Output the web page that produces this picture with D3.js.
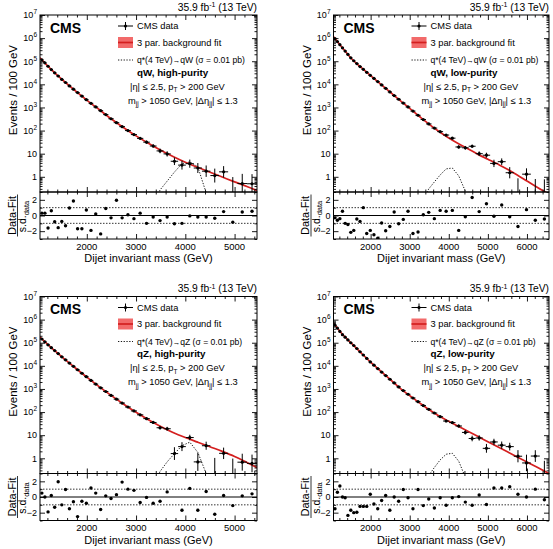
<!DOCTYPE html>
<html lang="en">
<head>
<meta charset="utf-8">
<title>Dijet invariant mass - qW / qZ categories</title>
<script src="https://cdn.jsdelivr.net/npm/d3@7"></script>
<style>
  body { margin: 0; background: #fff; }
  text { font-family: 'Liberation Sans', Arial, Helvetica, sans-serif; fill: #000; }
</style>
</head>
<body>
<script>

// dijet mass bin edges (GeV)
var binEdges = [1058, 1118, 1181, 1246, 1313, 1383, 1455, 1530, 1607, 1687, 1770, 1856, 1945,
  2037, 2132, 2231, 2332, 2438, 2546, 2659, 2775, 2895, 3019, 3147, 3279, 3416, 3558, 3704,
  3854, 4010, 4171, 4337, 4509, 4686, 4869, 5058, 5253, 5455, 5663, 5877, 6099, 6328, 6564];

// events / 100 GeV per bin
var qwHighData = [115000, 85000, 60500, 43600, 31600, 23000, 16300, 12000, 8550, 6150, 4400, 3100,
  2170, 1510, 1050, 725, 490, 325, 220, 148, 100, 67, 46, 31.5, 21.5, 13.2, 9.8, 4.7, 3.2, 3.7,
  2.4, 1.75, 1.13, 1.64, 0, 0.51, 0.5];
var qwLowData = [955000, 708000, 521000, 380000, 275000, 197000, 140000, 105000, 79400, 58900,
  44700, 33100, 24500, 18100, 13200, 9440, 6700, 4680, 3280, 2270, 1550, 1050, 698, 459, 300,
  194, 128, 90, 64, 47, 19.5, 18, 21, 10, 8.6, 3.8, 4.5, 1.5, 0, 1.3, 0, 0];
var qzHighData = [145000, 110000, 81000, 61000, 45700, 33900, 24500, 18200, 13200, 9550, 6760,
  4790, 3390, 2340, 1620, 1120, 776, 525, 363, 245, 166, 112, 76, 52, 35.5, 21, 19, 1.6, 3.2,
  7.9, 0.7, 3.5, 0, 1.64, 0, 0.68, 0.6];
var qzLowData = [575000, 427000, 309000, 224000, 174000, 132000, 100000, 75900, 56200, 40700,
  29500, 20900, 14800, 10700, 7590, 5370, 3800, 2630, 1820, 1230, 851, 589, 407, 282, 191, 132,
  91, 63, 41, 35, 25, 13.2, 7.2, 7.6, 2.7, 5.1, 3.7, 3.2, 1.23, 0.63, 1.25, 0];

// (data - fit) / s.d. per bin
var qwHighPull = [0.3, 0.3, -1.6, 0.6, -0.8, -1.55, -0.75, -1.3, 0.95, 1.85, -1.7, -1.7, 0.7,
  -1.9, 0.2, -2.35, 0.9, -0.3, 1.95, -0.3, 0.1, -0.4, 0.3, -1.0, -0.2, -0.65, -0.2, -1.05, -1.0,
  -0.05, -0.2, -0.2, -0.35, 0.5, -0.85, 0.45, 0.55];
var qwLowPull = [-0.3, -0.6, -0.4, 0.55, -1.0, -1.15, -2.15, -1.9, -0.45, -0.75, 1.0, -2.3, -1.9,
  -2.45, -2.9, -0.95, -1.95, -1.4, 0.45, -1.05, -0.5, 0.55, -2.3, -2.1, 0.1, 0.4, -0.4, 0.65,
  0.55, 0.65, -1.9, -0.15, 2.3, 0.5, 1.5, -0.1, 1.35, -0.15, -1.4, 0.75, -0.6, -0.45];
var qzHighPull = [0.5, 0, -1.9, 0.2, -1.3, 1.95, -1.0, 0.95, -1.5, -0.6, -2.5, -0.55, -0.8, 1.15,
  0.5, -1.6, 0.15, -0.2, 0.3, 1.9, 1.0, 0.85, -0.7, -0.05, -0.8, -0.55, 0.65, -3.5, -1.7, 1.1,
  -1.7, 0.7, -2.2, 0.2, -1.1, 0.15, 0.4];
var qzLowPull = [-1.5, 0.6, 1.4, 0, -0.1, -2.35, -1.7, -2.0, -1.95, -1.2, -1.2, -1.2, 0.35, -0.9,
  -1.5, -0.45, 0.2, -1.7, 0, -0.55, 0.95, -0.1, -1.5, 0.95, -1.1, -0.25, -1.4, -0.1, -1.05, -0.1,
  0.05, -0.65, -1.05, 0.25, -0.95, 1.15, 1.15, 1.3, 0.35, 0, 1.0, -0.35];

// 3 parameter fit, log10(events / 100 GeV) at these masses
var fitMassHigh = [1050, 1250, 1500, 1750, 2000, 2250, 2500, 2750, 3000, 3250, 3500, 3750, 4000,
  4250, 4500, 4750, 5000, 5250, 5455];
var fitMassLow = [1050, 1250, 1500, 1750, 2000, 2250, 2500, 2750, 3000, 3250, 3500, 3750, 4000,
  4250, 4500, 4750, 5000, 5250, 5500, 5750, 6000, 6250, 6564];
var qwHighFit = [5.15, 4.70, 4.20, 3.75, 3.32, 2.91, 2.50, 2.12, 1.77, 1.45, 1.15, 0.88, 0.63,
  0.41, 0.20, -0.01, -0.22, -0.42, -0.60];
var qzHighFit = [5.24, 4.84, 4.38, 3.94, 3.51, 3.10, 2.71, 2.34, 1.99, 1.67, 1.38, 1.12, 0.90,
  0.70, 0.50, 0.30, 0.08, -0.18, -0.40];
var qwLowFit = [6.06, 5.64, 5.13, 4.74, 4.38, 4.02, 3.66, 3.31, 2.96, 2.61, 2.27, 1.96, 1.68,
  1.43, 1.20, 0.97, 0.76, 0.55, 0.33, 0.08, -0.18, -0.44, -0.75];
var qzLowFit = [5.85, 5.42, 4.99, 4.57, 4.16, 3.78, 3.41, 3.04, 2.71, 2.40, 2.10, 1.83, 1.60,
  1.38, 1.16, 0.94, 0.72, 0.50, 0.28, 0.06, -0.16, -0.38, -0.66];

// q*(4 TeV) signal, events / 100 GeV
var sigMass = [3347.5, 3487, 3631, 3779, 3932, 4090.5, 4254, 4423, 4597.5];
var qwHighSig = [0.05, 0.27, 0.65, 1.6, 3.7, 4.4, 2.7, 0.2, 0.005];
var qwLowSig = [0.1, 0.3, 0.6, 1.2, 2.2, 2.4, 1.1, 0.24, 0.01];
var qzHighSig = [0.05, 0.27, 0.7, 1.6, 3.5, 5.0, 1.8, 0.22, 0.005];
var qzLowSig = [0.02, 0.18, 0.4, 0.85, 1.5, 1.65, 0.75, 0.15, 0.005];

var xTicksHigh = [2000, 3000, 4000, 5000];
var xTicksLow = [2000, 3000, 4000, 5000, 6000];
var pullTicks = [-2, 0, 2];

var red = "#d41f1f";
var yMin = 0.22;

var svg = d3.select("body").append("svg")
  .attr("width", 553)
  .attr("height", 549);

var panels = [
  {left: 40, right: 257, top: 15, data: qwHighData, pull: qwHighPull, fitMass: fitMassHigh,
   fit: qwHighFit, sig: qwHighSig, xTicks: xTicksHigh, boson: "qW", cat: "qW, high-purity"},
  {left: 333.5, right: 549, top: 15, data: qwLowData, pull: qwLowPull, fitMass: fitMassLow,
   fit: qwLowFit, sig: qwLowSig, xTicks: xTicksLow, boson: "qW", cat: "qW, low-purity"},
  {left: 40, right: 257, top: 296.5, data: qzHighData, pull: qzHighPull, fitMass: fitMassHigh,
   fit: qzHighFit, sig: qzHighSig, xTicks: xTicksHigh, boson: "qZ", cat: "qZ, high-purity"},
  {left: 333.5, right: 549, top: 296.5, data: qzLowData, pull: qzLowPull, fitMass: fitMassLow,
   fit: qzLowFit, sig: qzLowSig, xTicks: xTicksLow, boson: "qZ", cat: "qZ, low-purity"}
];

//Poisson-ish interval, returned in events / 100 GeV
function errBand(v, w) {
  var n = v * w / 100;
  if (n <= 0) return [0, 1.84 * 100 / w];
  var s = Math.sqrt(n + 0.25);
  return [Math.max(n - s + 0.5, 0) * 100 / w, (n + s + 0.5) * 100 / w];
}

function cleanAxis(sel) {
  sel.select(".domain").remove();
  sel.selectAll(".tick line").attr("stroke", "#000").attr("stroke-width", 0.9);
}

function drawPanel(p, k) {
  var g = svg.append("g");
  var top = p.top, mid = p.top + 177, bot = mid + 47;
  var nb = p.data.length;

  var x = d3.scaleLinear().domain([1050, binEdges[nb]]).range([p.left, p.right]);
  var y = d3.scaleLog().domain([yMin, 1e7]).range([mid, top]);
  var yp = d3.scaleLinear().domain([-3, 3]).range([bot, mid]);

  var defs = g.append("defs");
  defs.append("clipPath").attr("id", "ct" + k).append("rect")
    .attr("x", p.left).attr("y", top)
    .attr("width", p.right - p.left).attr("height", mid - top);
  defs.append("clipPath").attr("id", "cp" + k).append("rect")
    .attr("x", p.left).attr("y", mid)
    .attr("width", p.right - p.left).attr("height", bot - mid);

  var bins = p.data.map(function(v, i) {
    var lo = binEdges[i], hi = binEdges[i + 1];
    return {lo: lo, hi: hi, c: (lo + hi) / 2, w: hi - lo, v: v, pull: p.pull[i]};
  });

  var plot = g.append("g").attr("clip-path", "url(#ct" + k + ")");

  //signal shape
  plot.append("path")
    .datum(sigMass.map(function(m, i) { return [m, p.sig[i]]; }))
    .attr("d", d3.line()
      .x(function(d) { return x(d[0]); })
      .y(function(d) { return y(d[1]); }))
    .attr("fill", "none")
    .attr("stroke", "#000")
    .attr("stroke-width", 0.9)
    .attr("stroke-dasharray", "1.3,1.5");

  //background fit
  plot.append("path")
    .datum(p.fitMass.map(function(m, i) { return [m, Math.pow(10, p.fit[i])]; }))
    .attr("d", d3.line()
      .x(function(d) { return x(d[0]); })
      .y(function(d) { return y(d[1]); })
      .curve(d3.curveMonotoneX))
    .attr("fill", "none")
    .attr("stroke", red)
    .attr("stroke-width", 1.7);

  //data: error bars and markers
  var pts = plot.selectAll("g.pt").data(bins).enter().append("g");
  pts.filter(function(d) { return d.v > 0; }).append("line")
    .attr("x1", function(d) { return x(d.lo); })
    .attr("x2", function(d) { return x(d.hi); })
    .attr("y1", function(d) { return y(d.v); })
    .attr("y2", function(d) { return y(d.v); })
    .attr("stroke", "#000").attr("stroke-width", 1);
  pts.append("line")
    .attr("x1", function(d) { return x(d.c); })
    .attr("x2", function(d) { return x(d.c); })
    .attr("y1", function(d) { return y(Math.max(errBand(d.v, d.w)[0], yMin)); })
    .attr("y2", function(d) { return y(errBand(d.v, d.w)[1]); })
    .attr("stroke", "#000").attr("stroke-width", 1);
  pts.filter(function(d) { return d.v > 0; }).append("circle")
    .attr("cx", function(d) { return x(d.c); })
    .attr("cy", function(d) { return y(d.v); })
    .attr("r", 1.6)
    .attr("fill", "#000");

  //pull panel
  var pp = g.append("g").attr("clip-path", "url(#cp" + k + ")");
  pp.append("line")
    .attr("x1", p.left).attr("x2", p.right)
    .attr("y1", yp(0)).attr("y2", yp(0))
    .attr("stroke", "#000").attr("stroke-width", 1);
  [-1, 1].forEach(function(v) {
    pp.append("line")
      .attr("x1", p.left).attr("x2", p.right)
      .attr("y1", yp(v)).attr("y2", yp(v))
      .attr("stroke", "#000").attr("stroke-width", 0.8)
      .attr("stroke-dasharray", "1.5,1.5");
  });
  pp.selectAll("circle").data(bins.filter(function(d) { return Math.abs(d.pull) < 3; }))
    .enter().append("circle")
    .attr("cx", function(d) { return x(d.c); })
    .attr("cy", function(d) { return yp(d.pull); })
    .attr("r", 1.7)
    .attr("fill", "#000");

  //x axes (ticks inside on every edge)
  var xMinor = d3.range(1200, binEdges[nb], 200).filter(function(v) { return v % 1000 !== 0; });
  [[top, d3.axisTop], [mid, d3.axisBottom], [mid, d3.axisTop], [bot, d3.axisBottom]].forEach(function(a) {
    var maj = a[1](x).tickValues(p.xTicks).tickSize(-5).tickFormat("");
    var mnr = a[1](x).tickValues(xMinor).tickSize(-2.5).tickFormat("");
    g.append("g").attr("transform", "translate(0," + a[0] + ")").call(maj).call(cleanAxis);
    g.append("g").attr("transform", "translate(0," + a[0] + ")").call(mnr).call(cleanAxis);
  });

  //x tick labels
  g.selectAll("text.xl").data(p.xTicks).enter().append("text")
    .attr("x", function(d) { return x(d); })
    .attr("y", bot + 10.5)
    .attr("text-anchor", "middle")
    .attr("font-size", 9.5)
    .text(function(d) { return d; });

  //log y axes
  var decades = [1, 10, 100, 1e3, 1e4, 1e5, 1e6, 1e7];
  var logMinor = [];
  [0.1, 1, 10, 100, 1e3, 1e4, 1e5, 1e6].forEach(function(dec) {
    for (var m = 2; m <= 9; m++) {
      if (dec * m > yMin && dec * m < 1e7) logMinor.push(dec * m);
    }
  });
  [[p.left, d3.axisLeft], [p.right, d3.axisRight]].forEach(function(a) {
    g.append("g").attr("transform", "translate(" + a[0] + ",0)")
      .call(a[1](y).tickValues(decades).tickSize(-5).tickFormat("")).call(cleanAxis);
    g.append("g").attr("transform", "translate(" + a[0] + ",0)")
      .call(a[1](y).tickValues(logMinor).tickSize(-2.5).tickFormat("")).call(cleanAxis);
    g.append("g").attr("transform", "translate(" + a[0] + ",0)")
      .call(a[1](yp).tickValues(pullTicks).tickSize(-5).tickFormat("")).call(cleanAxis);
    g.append("g").attr("transform", "translate(" + a[0] + ",0)")
      .call(a[1](yp).tickValues([-3, -1, 1, 3]).tickSize(-2.5).tickFormat("")).call(cleanAxis);
  });

  decades.forEach(function(v) {
    var e = Math.round(Math.log10(v));
    var t = g.append("text")
      .attr("x", p.left - 3)
      .attr("y", y(v) + 3.3)
      .attr("text-anchor", "end")
      .attr("font-size", 9);
    if (e < 2) {
      t.text(v);
    } else {
      t.text("10");
      t.append("tspan").attr("dy", -4).attr("font-size", 6.5).text(e);
    }
  });
  pullTicks.forEach(function(v) {
    g.append("text")
      .attr("x", p.left - 3)
      .attr("y", yp(v) + 3.3)
      .attr("text-anchor", "end")
      .attr("font-size", 9)
      .text(v < 0 ? "\u2212" + Math.abs(v) : v);
  });

  //frames
  g.append("rect")
    .attr("x", p.left).attr("y", top)
    .attr("width", p.right - p.left).attr("height", mid - top)
    .attr("fill", "none").attr("stroke", "#000").attr("stroke-width", 1);
  g.append("rect")
    .attr("x", p.left).attr("y", mid)
    .attr("width", p.right - p.left).attr("height", bot - mid)
    .attr("fill", "none").attr("stroke", "#000").attr("stroke-width", 1);

  //axis titles
  g.append("text")
    .attr("x", (p.left + p.right) / 2)
    .attr("y", bot + 23)
    .attr("text-anchor", "middle")
    .attr("font-size", 11)
    .text("Dijet invariant mass (GeV)");

  g.append("text")
    .attr("transform", "translate(" + (p.left - 23) + "," + (top + 30) + ") rotate(-90)")
    .attr("text-anchor", "end")
    .attr("font-size", 11.5)
    .text("Events / 100 GeV");

  var pc = (mid + bot) / 2;
  g.append("text")
    .attr("transform", "translate(" + (p.left - 24.5) + "," + pc + ") rotate(-90)")
    .attr("text-anchor", "middle")
    .attr("font-size", 11)
    .text("Data-Fit");
  g.append("line")
    .attr("x1", p.left - 22.5).attr("x2", p.left - 22.5)
    .attr("y1", pc - 21).attr("y2", pc + 21)
    .attr("stroke", "#000").attr("stroke-width", 0.8);
  var sd = g.append("text")
    .attr("transform", "translate(" + (p.left - 14) + "," + (pc + 1) + ") rotate(-90)")
    .attr("text-anchor", "middle")
    .attr("font-size", 10.5)
    .text("s.d.");
  sd.append("tspan").attr("dy", 2.5).attr("font-size", 7.5).text("data");

  //header
  var lumi = g.append("text")
    .attr("x", p.right)
    .attr("y", top - 4.5)
    .attr("text-anchor", "end")
    .attr("font-size", 10.3)
    .text("35.9 fb");
  lumi.append("tspan").attr("dy", -3.5).attr("font-size", 7).text("-1");
  lumi.append("tspan").attr("dy", 3.5).text(" (13 TeV)");

  g.append("text")
    .attr("x", p.left + 10)
    .attr("y", top + 17.5)
    .attr("font-size", 14)
    .attr("font-weight", "bold")
    .text("CMS");

  //legend
  var lx = p.left + 78, tx = p.left + 97, fs = 9.3;
  g.append("line")
    .attr("x1", lx).attr("x2", lx + 15)
    .attr("y1", top + 11).attr("y2", top + 11)
    .attr("stroke", "#000").attr("stroke-width", 1);
  g.append("line")
    .attr("x1", lx + 7.5).attr("x2", lx + 7.5)
    .attr("y1", top + 7).attr("y2", top + 15)
    .attr("stroke", "#000").attr("stroke-width", 1);
  g.append("circle")
    .attr("cx", lx + 7.5).attr("cy", top + 11).attr("r", 1.6).attr("fill", "#000");
  g.append("text").attr("x", tx).attr("y", top + 14.3).attr("font-size", fs).text("CMS data");

  g.append("rect")
    .attr("x", lx).attr("y", top + 22)
    .attr("width", 15).attr("height", 11)
    .attr("fill", "#f26a6a");
  g.append("line")
    .attr("x1", lx).attr("x2", lx + 15)
    .attr("y1", top + 27.5).attr("y2", top + 27.5)
    .attr("stroke", red).attr("stroke-width", 1.7);
  g.append("text").attr("x", tx).attr("y", top + 30.8).attr("font-size", fs)
    .text("3 par. background fit");

  g.append("line")
    .attr("x1", lx).attr("x2", lx + 15)
    .attr("y1", top + 45).attr("y2", top + 45)
    .attr("stroke", "#000").attr("stroke-width", 0.9)
    .attr("stroke-dasharray", "1.3,1.5");
  var sigText = g.append("text").attr("x", tx).attr("y", top + 48.3).attr("font-size", 8.6)
    .text("q*(4 TeV)");
  sigText.append("tspan").attr("font-size", 7.5).text("\u2192");
  sigText.append("tspan").text(p.boson + " (\u03c3 = 0.01 pb)");

  g.append("text").attr("x", tx).attr("y", top + 60.8)
    .attr("font-size", 9.8).attr("font-weight", "bold")
    .text(p.cat);

  var eta = g.append("text").attr("x", p.left + 90).attr("y", top + 74.5).attr("font-size", fs)
    .text("|\u03b7| \u2264 2.5, p");
  eta.append("tspan").attr("dy", 2.5).attr("font-size", 6.5).text("T");
  eta.append("tspan").attr("dy", -2.5).text(" > 200 GeV");

  var mjj = g.append("text").attr("x", p.left + 88).attr("y", top + 88.5).attr("font-size", fs)
    .text("m");
  mjj.append("tspan").attr("dy", 2.5).attr("font-size", 6.5).text("jj");
  mjj.append("tspan").attr("dy", -2.5).text(" > 1050 GeV, |\u0394\u03b7");
  mjj.append("tspan").attr("dy", 2.5).attr("font-size", 6.5).text("jj");
  mjj.append("tspan").attr("dy", -2.5).text("| \u2264 1.3");
}

panels.forEach(function(p, k) { drawPanel(p, k); });

</script>
</body>
</html>
